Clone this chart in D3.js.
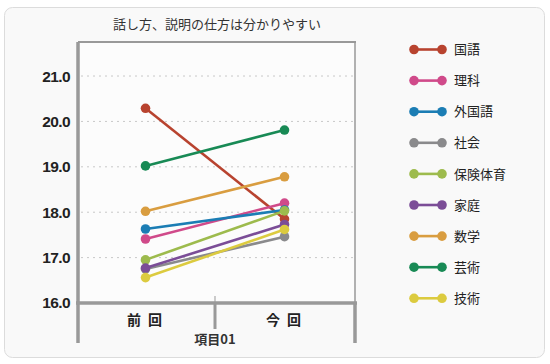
<!DOCTYPE html>
<html>
<head>
<meta charset="utf-8">
<script src="https://cdn.jsdelivr.net/npm/d3@7"></script>
<style>
  body { margin: 0; background: #fff; }
  svg { display: block; font-family: 'Noto Sans CJK JP', 'Noto Sans', sans-serif; }
</style>
</head>
<body>
<svg id="chart" width="550" height="364"></svg>
<script>
const title = '話し方、説明の仕方は分かりやすい'
const categories = ['前 回', '今 回']
const groupLabel = '項目01'
const subjects = ['国語', '理科', '外国語', '社会', '保険体育', '家庭', '数学', '芸術', '技術']
const colors = ['#b8432f', '#d04a8a', '#1b7db4', '#8a8a8c', '#9dbb4d', '#7b4d97', '#d99d40', '#188a55', '#dccb3f']
const prevValues = [20.29, 17.41, 17.63, 16.75, 16.95, 16.77, 18.02, 19.02, 16.56]
const nowValues = [17.85, 18.2, 18.05, 17.46, 18.03, 17.73, 18.78, 19.81, 17.62]
const yTicks = [16, 17, 18, 19, 20, 21]

const svg = d3.select('#chart')

// card
svg.append('rect')
  .attr('x', 4.5).attr('y', 7.5)
  .attr('width', 540).attr('height', 350)
  .attr('rx', 8)
  .attr('fill', '#f9f9f9')
  .attr('stroke', '#dcdcdc')

const plotL = 78, plotR = 355, plotT = 42, plotB = 303

const x = d3.scalePoint().domain(categories).range([76, 354]).padding(0.5)
const y = d3.scaleLinear().domain([16, 21.75]).range([plotB, plotT])

svg.append('rect')
  .attr('x', plotL).attr('y', plotT)
  .attr('width', plotR - plotL).attr('height', plotB - plotT)
  .attr('fill', '#fcfcfc')

svg.append('text')
  .attr('x', 217).attr('y', 29)
  .attr('text-anchor', 'middle')
  .attr('font-size', 13)
  .attr('fill', '#333')
  .text(title)

// grid
svg.append('g')
  .selectAll('line')
  .data(yTicks.slice(1))
  .join('line')
  .attr('x1', plotL + 3).attr('x2', plotR - 2)
  .attr('y1', (d) => y(d)).attr('y2', (d) => y(d))
  .attr('stroke', '#c8c8c8')
  .attr('stroke-dasharray', '2,4')

// frame
svg.append('line')
  .attr('x1', plotL).attr('x2', plotR + 1)
  .attr('y1', plotT).attr('y2', plotT)
  .attr('stroke', '#999').attr('stroke-width', 2)
svg.append('line')
  .attr('x1', plotR).attr('x2', plotR)
  .attr('y1', plotT).attr('y2', plotB)
  .attr('stroke', '#999').attr('stroke-width', 1.5)

// y axis
const yAxis = svg.append('g')
  .attr('transform', `translate(${plotL},0)`)
  .call(d3.axisLeft(y).tickValues(yTicks).tickFormat(d3.format('.1f')).tickSize(0).tickPadding(8))
yAxis.select('.domain').remove()
yAxis.append('line')
  .attr('x1', 0).attr('x2', 0)
  .attr('y1', plotT).attr('y2', 343)
  .attr('stroke', '#999').attr('stroke-width', 3.5)
yAxis.selectAll('text')
  .attr('font-family', 'Liberation Sans, Arial, sans-serif')
  .attr('font-size', 15.5)
  .attr('font-weight', 'bold')
  .attr('letter-spacing', '-0.6')
  .attr('fill', '#222')

// x axis
const xAxis = svg.append('g')
xAxis.append('line')
  .attr('x1', plotL - 2).attr('x2', plotR + 2)
  .attr('y1', plotB).attr('y2', plotB)
  .attr('stroke', '#999').attr('stroke-width', 3.5)
xAxis.append('line')
  .attr('x1', plotR).attr('x2', plotR)
  .attr('y1', plotB).attr('y2', 343)
  .attr('stroke', '#999').attr('stroke-width', 3.5)
const mid = (x(categories[0]) + x(categories[1])) / 2
xAxis.append('line')
  .attr('x1', mid).attr('x2', mid)
  .attr('y1', 296).attr('y2', plotB)
  .attr('stroke', '#999').attr('stroke-width', 1)
xAxis.append('line')
  .attr('x1', mid).attr('x2', mid)
  .attr('y1', plotB).attr('y2', 329)
  .attr('stroke', '#999').attr('stroke-width', 3)
xAxis.selectAll('text.cat')
  .data(categories)
  .join('text')
  .attr('class', 'cat')
  .attr('x', (d) => x(d)).attr('y', 325)
  .attr('text-anchor', 'middle')
  .attr('font-size', 14)
  .attr('font-weight', 'bold')
  .attr('letter-spacing', '2')
  .attr('fill', '#222')
  .text((d) => d)
xAxis.append('text')
  .attr('x', mid).attr('y', 344)
  .attr('text-anchor', 'middle')
  .attr('font-size', 13)
  .attr('font-weight', 'bold')
  .attr('fill', '#333')
  .text(groupLabel)

// series
const series = subjects.map((name, i) => ({
  name,
  color: colors[i],
  values: [prevValues[i], nowValues[i]],
}))

const line = d3.line()
  .x((d, i) => x(categories[i]))
  .y((d) => y(d))

const seriesG = svg.append('g')
  .selectAll('g')
  .data(series)
  .join('g')
seriesG.append('path')
  .attr('d', (d) => line(d.values))
  .attr('fill', 'none')
  .attr('stroke', (d) => d.color)
  .attr('stroke-width', 2.6)
seriesG.selectAll('circle')
  .data((d) => d.values.map((v) => ({ v, color: d.color })))
  .join('circle')
  .attr('cx', (d, i) => x(categories[i]))
  .attr('cy', (d) => y(d.v))
  .attr('r', 4.8)
  .attr('fill', (d) => d.color)

// legend
const legend = svg.append('g')
  .selectAll('g')
  .data(series)
  .join('g')
  .attr('transform', (d, i) => `translate(0,${49.5 + i * 31.1})`)
legend.append('line')
  .attr('x1', 414).attr('x2', 442)
  .attr('stroke', (d) => d.color).attr('stroke-width', 2.6)
legend.selectAll('circle')
  .data((d) => [414, 442].map((cx) => ({ cx, color: d.color })))
  .join('circle')
  .attr('cx', (d) => d.cx)
  .attr('r', 4.8)
  .attr('fill', (d) => d.color)
legend.append('text')
  .attr('x', 454).attr('y', 0)
  .attr('dy', '0.36em')
  .attr('font-size', 13)
  .attr('fill', '#222')
  .text((d) => d.name)
</script>
</body>
</html>
